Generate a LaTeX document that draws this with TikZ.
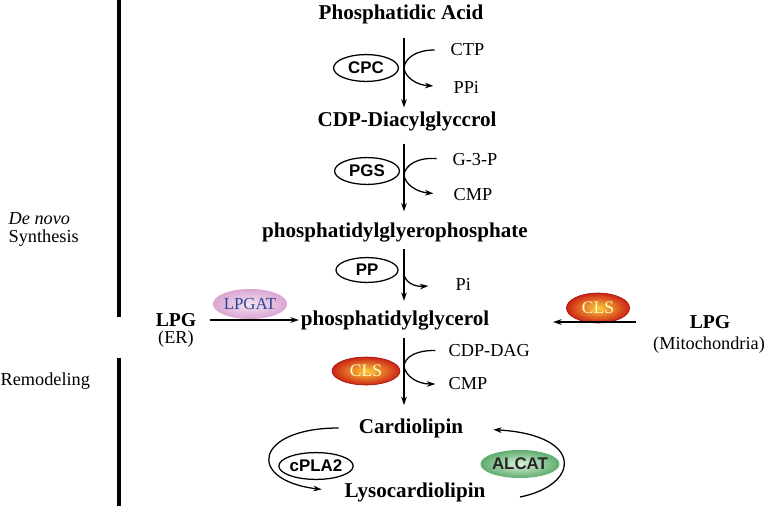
\documentclass[tikz,border=0pt]{standalone}
\usepackage{fontspec}
\setmainfont{Liberation Serif}
\newfontfamily\enzfont{Liberation Sans}
\usetikzlibrary{shapes.geometric,arrows.meta}
\definecolor{clsin}{RGB}{252,205,60}
\definecolor{clsout}{RGB}{205,35,20}
\definecolor{clsedge}{RGB}{150,20,15}
\definecolor{lpgatin}{RGB}{246,226,242}
\definecolor{lpgatout}{RGB}{218,165,210}
\definecolor{lpgattext}{RGB}{45,70,150}
\definecolor{alcatin}{RGB}{220,242,220}
\definecolor{alcatout}{RGB}{95,172,110}

\begin{document}
\begin{tikzpicture}
	[x=0.025cm, y=-0.025cm, line width=0.9pt, >={Stealth[length=6pt,width=4pt]},
	chem/.style={font=\bfseries\fontsize{15}{18}\selectfont, inner sep=1pt},
	side/.style={font=\fontsize{13}{15}\selectfont, anchor=west, inner sep=0pt},
	txt/.style={font=\fontsize{13}{12.8}\selectfont, inner sep=0pt},
	enz/.style={ellipse, draw, fill=white, line width=0.9pt, minimum width=1.62cm, minimum height=0.67cm, inner sep=0pt, font=\enzfont\bfseries\fontsize{12}{13}\selectfont},
	cls/.style={ellipse, draw=clsedge, line width=0.4pt, minimum width=1.65cm, minimum height=0.72cm, inner sep=0pt, inner color=clsin, outer color=clsout, text=yellow!25, font=\fontsize{12.5}{13}\selectfont}]
	\useasboundingbox (0,0) rectangle (768,506);

	\draw[line width=2.6pt] (119,0) -- (119,317);
	\draw[line width=2.6pt] (119,358) -- (119,506);
	\node[txt, align=left, anchor=west] (dn) at (8,229) {\textit{De novo}\\Synthesis};
	\node[txt, anchor=west] (rm) at (0,381) {Remodeling};

	\coordinate (ax) at (404,0);
	\node[chem] (pa) at (401,14) {Phosphatidic Acid};
	\node[chem] (cdp) at (407,122) {CDP-Diacylglyccrol};
	\node[chem] (pgp) at (395,233) {phosphatidylglyerophosphate};
	\node[chem] (pg) at (395,321) {phosphatidylglycerol};
	\node[chem] (cl) at (411,428) {Cardiolipin};
	\node[chem] (lcl) at (415,492) {Lysocardiolipin};

	\draw[->, shorten <=9pt, shorten >=2pt] (pa.south -| ax) -- (cdp.north -| ax);
	\draw[->, shorten <=7pt, shorten >=7pt] (cdp.south -| ax) -- (pgp.north -| ax);
	\draw[->, shorten <=3pt, shorten >=6pt] (pgp.south -| ax) -- (pg.north -| ax);
	\draw[->, shorten <=4pt, shorten >=8pt] (pg.south -| ax) -- (cl.north -| ax);

	\begin{scope}[shift={(404,68)}]
		\node[enz] (e1) at (-38,0) {CPC};
		\node[side] (ctp) at (46,-18) {CTP};
		\node[side] (ppi) at (49,19) {PPi};
		\draw[->, shorten <=11pt, shorten >=14pt] (ctp.west) .. controls (12,-18) and (1,-10) .. (0,0)
			.. controls (1,9) and (12,17) .. (ppi.west);
	\end{scope}
	\begin{scope}[shift={(404,175)}]
		\node[enz] (e2) at (-37,-4) {PGS};
		\node[side] (g3p) at (48,-15) {G-3-P};
		\node[side] (cmpa) at (49,20) {CMP};
		\draw[->, shorten <=11pt, shorten >=14pt] (g3p.west) .. controls (14,-18) and (1,-10) .. (0,0)
			.. controls (1,9) and (12,17) .. (cmpa.west);
	\end{scope}
	\begin{scope}[shift={(404,274)}]
		\node[enz, minimum width=1.55cm, minimum height=0.62cm] (e3) at (-37,-4) {PP};
		\node[side] (pi) at (51,10) {Pi};
		\coordinate (h3) at (0,0);
		\draw[->, shorten >=19pt] (h3) .. controls (1,8) and (10,13) .. (pi.west);
	\end{scope}
	\begin{scope}[shift={(404,366)}]
		\node[cls, minimum width=1.7cm, minimum height=0.7cm] (e4) at (-38,5) {CLS};
		\node[side] (cdpdag) at (44,-15) {CDP-DAG};
		\node[side] (cmpb) at (44,18) {CMP};
		\draw[->, shorten <=9pt, shorten >=9pt] (cdpdag.west) .. controls (14,-16) and (1,-10) .. (0,0)
			.. controls (1,9) and (12,18) .. (cmpb.west);
	\end{scope}

	\node[chem, font=\bfseries\fontsize{14}{16}\selectfont] (lpger) at (176,320) {LPG};
	\node[txt] (er) at (176,339) {(ER)};
	\node[ellipse, minimum width=1.8cm, minimum height=0.75cm, inner sep=0pt, inner color=lpgatin, outer color=lpgatout, text=lpgattext, font=\fontsize{12}{13}\selectfont] (lpgat) at (250,304) {LPGAT};
	\draw[->, shorten <=8pt] (lpger.east) -- (lpger.east -| pg.west);

	\node[chem, font=\bfseries\fontsize{14}{16}\selectfont] (lpgmt) at (710,322) {LPG};
	\node[txt] (mito) at (709,345) {(Mitochondria)};
	\node[cls, minimum width=1.58cm, minimum height=0.75cm] (cls2) at (598,308) {CLS};
	\draw[->, shorten <=37pt, shorten >=44pt] (lpgmt.west) -- (lpgmt.west -| pg.east);

	\coordinate (alin) at (520,497);
	\draw[->, shorten <=13pt, shorten >=15pt] (cl.west) .. controls (255,428) and (245,480) .. (lcl.west);
	\draw[->, shorten >=20pt] (alin) .. controls (580,485) and (585,435) .. (cl.east);
	\node[enz] (cpla) at (316,466) {cPLA2};
	\node[ellipse, minimum width=1.62cm, minimum height=0.7cm, inner sep=0pt, inner color=alcatin, outer color=alcatout, text=black!85, font=\enzfont\bfseries\fontsize{12}{13}\selectfont] (alcat) at (520,464) {ALCAT};
\end{tikzpicture}
\end{document}
